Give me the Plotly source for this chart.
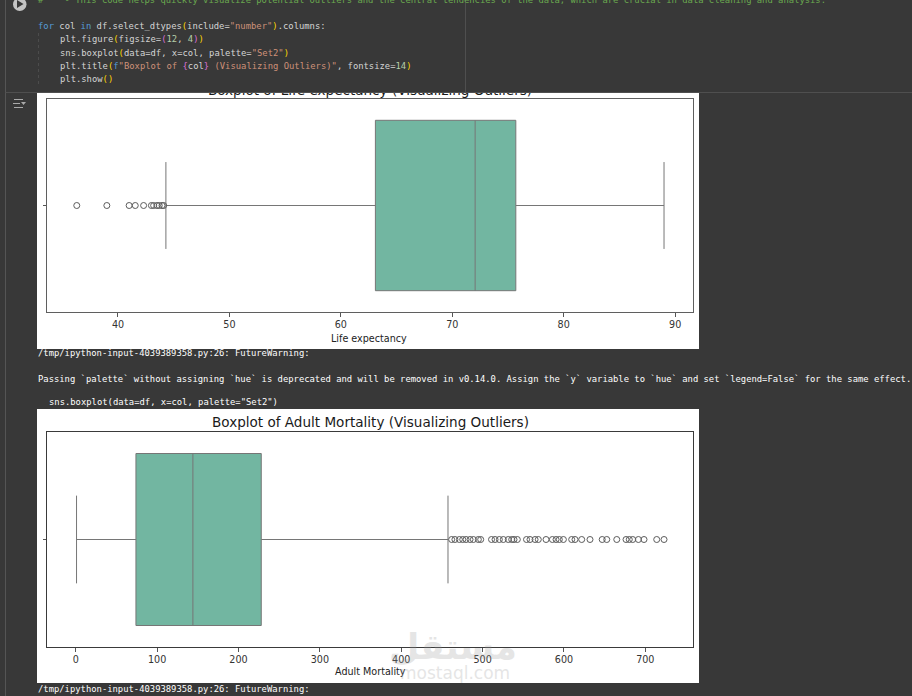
import plotly.graph_objects as go

# ---- data ----
LIFE_STATS = {"q1": 63.1, "median": 72.05, "q3": 75.7, "low": 44.3, "high": 89.0}
LIFE_OUT = [36.3, 39.0, 41.0, 41.55, 42.3, 43.0, 43.2, 43.5, 43.7, 43.95, 44.1]
ADULT_STATS = {"q1": 74, "median": 144, "q3": 228, "low": 1, "high": 457.5}
ADULT_OUT = [462, 466, 471.5, 475.6, 479.7, 484.6, 488.7, 494.8, 497.7, 511, 515.3, 520.6,
             525.5, 531.6, 535.8, 538.6, 542.7, 554, 558.3, 564.5, 568.5, 578, 585.8, 590.3,
             594.3, 599.3, 609.5, 613.6, 621.8, 632, 647, 652.6, 664.9, 676.3, 680.3, 684.5,
             691.5, 698.4, 714, 723]
LIFE_TICKS = [40, 50, 60, 70, 80, 90]
ADULT_TICKS = [0, 100, 200, 300, 400, 500, 600, 700]
TITLE_LIFE = "Boxplot of Life expectancy (Visualizing Outliers)"
TITLE_ADULT = "Boxplot of Adult Mortality (Visualizing Outliers)"
LABEL_LIFE = "Life expectancy"
LABEL_ADULT = "Adult Mortality"

W, H = 912, 696
BG = "#383838"
FILL = "#72b6a1"
EDGE = "#767676"
MARK = "#5c5c5c"
MONO = "DejaVu Sans Mono"
SANS = "DejaVu Sans"

def fx(p): return p / W
def fy(p): return 1 - p / H

K = "#569cd6"; S = "#ce9178"; G = "#ffd700"; P = "#da70d6"; N = "#b5cea8"; T = "#d4d4d4"; C = "#6aa84f"
def c(col, s): return f'<span style="color:{col}">{s}</span>'

CODE_LINES = [
    (38, 0, c(C, "#    - This code helps quickly visualize potential outliers and the central tendencies of the data, which are crucial in data cleaning and analysis.")),
    (38, 26, c(K, "for") + " col " + c(K, "in") + " df.select_dtypes" + c(G, "(") + "include=" + c(S, '"number"') + c(G, ")") + ".columns:"),
    (59.5, 39, "plt.figure" + c(G, "(") + "figsize=" + c(P, "(") + c(N, "12") + ", " + c(N, "4") + c(P, ")") + c(G, ")")),
    (59.5, 52.5, "sns.boxplot" + c(G, "(") + "data=df, x=col, palette=" + c(S, '"Set2"') + c(G, ")")),
    (59.5, 66, "plt.title" + c(G, "(") + c(K, "f") + c(S, '"Boxplot of ') + c(P, "{") + "col" + c(P, "}") + c(S, ' (Visualizing Outliers)"') + ", fontsize=" + c(N, "14") + c(G, ")")),
    (59.5, 79, "plt.show" + c(G, "(") + c(G, ")")),
]
WARN_LINES = [
    (38, 353, "/tmp/ipython-input-4039389358.py:26: FutureWarning:"),
    (38, 378.5, "Passing `palette` without assigning `hue` is deprecated and will be removed in v0.14.0. Assign the `y` variable to `hue` and set `legend=False` for the same effect."),
    (49, 402, 'sns.boxplot(data=df, x=col, palette="Set2")'),
    (38, 689, "/tmp/ipython-input-4039389358.py:26: FutureWarning:"),
]

fig = go.Figure()

def add_chart(stats, outliers, xa, ya):
    fig.add_trace(go.Box(
        y=[0], q1=[stats["q1"]], median=[stats["median"]], q3=[stats["q3"]],
        lowerfence=[stats["low"]], upperfence=[stats["high"]],
        orientation="h", width=0.8, whiskerwidth=0.51, boxpoints=False,
        fillcolor=FILL, line=dict(color=EDGE, width=1), xaxis=xa, yaxis=ya,
        hoverinfo="skip", showlegend=False))
    fig.add_trace(go.Scatter(
        x=outliers, y=[0] * len(outliers), mode="markers",
        marker=dict(symbol="circle-open", size=6, line=dict(color=MARK, width=1), color=MARK),
        xaxis=xa, yaxis=ya, hoverinfo="skip", showlegend=False))

add_chart(LIFE_STATS, LIFE_OUT, "x", "y")
add_chart(ADULT_STATS, ADULT_OUT, "x2", "y2")

# title of the first chart, cut by the top edge of its image
fig.add_trace(go.Scatter(
    x=[370], y=[91.5], mode="text", text=[TITLE_LIFE], textposition="middle center",
    textfont=dict(family=SANS, size=13.55, color="#1a1a1a"), cliponaxis=True,
    xaxis="x3", yaxis="y3", hoverinfo="skip", showlegend=False))

def xaxis(domain, rng, ticks, anchor, linecolor):
    return dict(domain=[fx(domain[0]), fx(domain[1])], range=rng, tickvals=ticks,
                ticks="outside", ticklen=3.5, tickwidth=1, tickcolor="#555", anchor=anchor,
                showgrid=False, zeroline=False, showline=True, mirror=True,
                linecolor=linecolor, linewidth=1,
                tickfont=dict(family=SANS, size=9.6, color="#333"))

def yaxis(domain, anchor, linecolor):
    return dict(domain=[fy(domain[1]), fy(domain[0])], range=[0.5, -0.5], tickvals=[0],
                showticklabels=False, ticks="outside", ticklen=3.5, tickwidth=1, tickcolor="#555",
                showgrid=False, zeroline=False, showline=True, mirror=True,
                linecolor=linecolor, linewidth=1, anchor=anchor)

line = lambda x0, y0, x1, y1, col, w=1, dash="solid": dict(
    type="line", xref="paper", yref="paper", x0=fx(x0), y0=fy(y0), x1=fx(x1), y1=fy(y1),
    line=dict(color=col, width=w, dash=dash), layer="below")
rect = lambda x0, y0, x1, y1, col: dict(
    type="rect", xref="paper", yref="paper", x0=fx(x0), y0=fy(y0), x1=fx(x1), y1=fy(y1),
    fillcolor=col, line=dict(width=0), layer="below")

shapes = [
    rect(37, 93, 699, 349, "white"),
    rect(37, 409, 699, 683, "white"),
    line(5.5, 0, 5.5, 696, "#555"),
    line(465.5, 0, 465.5, 92, "#4f4f4f"),
    line(5.5, 92.5, 912, 92.5, "#4f4f4f"),
    line(38.5, 33, 38.5, 85, "#4c4c4c", 1, "dot"),
    dict(type="circle", xref="paper", yref="paper", x0=fx(13), y0=fy(11), x1=fx(26.5), y1=fy(-2.5),
         fillcolor="#c4c4c4", line=dict(width=0), layer="below"),
    dict(type="path", xref="paper", yref="paper", layer="below", fillcolor="#383838", line=dict(width=0),
         path=f"M {fx(17)} {fy(0)} L {fx(23.5)} {fy(4)} L {fx(17)} {fy(8)} Z"),
    line(14, 99.5, 23, 99.5, "#aaaaaa"),
    line(13, 103.5, 20, 103.5, "#aaaaaa"),
    line(14, 107.5, 23, 107.5, "#aaaaaa"),
    dict(type="path", xref="paper", yref="paper", layer="below", fillcolor="#aaaaaa", line=dict(width=0),
         path=f"M {fx(21)} {fy(102)} L {fx(26)} {fy(102)} L {fx(23.5)} {fy(105)} Z"),
]

ann = []
def text(x, y, s, size, color, family, xanchor="left", opacity=1.0):
    ann.append(dict(x=fx(x), y=fy(y), xref="paper", yref="paper", text=s, showarrow=False,
                    xanchor=xanchor, yanchor="middle", align="left", opacity=opacity,
                    font=dict(size=size, color=color, family=family),
                    borderpad=0, borderwidth=0))

for x, y, s in CODE_LINES:
    text(x, y, s, 8.86, T, MONO)
for x, y, s in WARN_LINES:
    text(x, y, s, 8.86, "#ffffff", MONO)
text(370, 422, TITLE_ADULT, 13.55, "#1a1a1a", SANS, "center")
text(369, 338, LABEL_LIFE, 9.6, "#222", SANS, "center")
text(370, 671, LABEL_ADULT, 9.6, "#222", SANS, "center")
text(453, 647, "<b>مستقل</b>", 35, "#9a9a9a", SANS, "center", 0.25)
text(455, 673, "mostaql.com", 17, "#9a9a9a", SANS, "center", 0.25)

fig.update_layout(
    width=W, height=H, margin=dict(l=0, r=0, t=0, b=0), autosize=False,
    paper_bgcolor=BG, plot_bgcolor="rgba(0,0,0,0)", showlegend=False,
    xaxis=xaxis((47, 693), [33.63, 91.6], LIFE_TICKS, "y", "#5f5f5f"),
    yaxis=yaxis((99, 312), "x", "#5f5f5f"),
    xaxis2=xaxis((47, 693), [-35.3, 758.6], ADULT_TICKS, "y2", "#3a3a3a"),
    yaxis2=yaxis((432, 647), "x2", "#3a3a3a"),
    xaxis3=dict(domain=[fx(37), fx(699)], range=[37, 699], visible=False, anchor="y3"),
    yaxis3=dict(domain=[fy(349), fy(93)], range=[349, 93], visible=False, anchor="x3"),
    shapes=shapes, annotations=ann,
)
fig.write_html("out.html", config=dict(displayModeBar=False),
               post_script="document.body.style.margin='0';document.body.style.overflow='hidden';")
